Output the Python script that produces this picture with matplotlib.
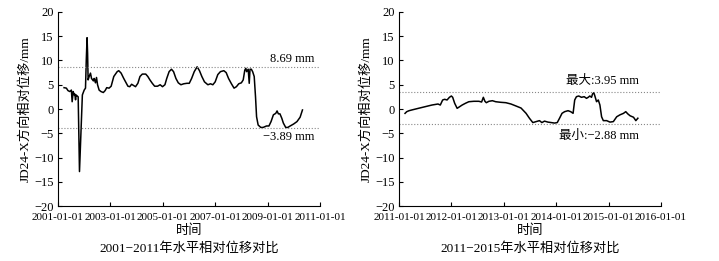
import numpy as np
import pandas as pd
import matplotlib
matplotlib.use("Agg")
import matplotlib.pyplot as plt
import matplotlib.dates as mdates

plt.rcParams['font.family'] = ['Liberation Serif', 'Noto Sans CJK SC']
plt.rcParams['axes.unicode_minus'] = True

# ---- data ----
# 2001-2011, time in decimal years
t1 = [2001.23, 2001.32, 2001.38, 2001.45, 2001.51, 2001.54, 2001.58, 2001.62, 2001.64,
      2001.67, 2001.69, 2001.73, 2001.77, 2001.82, 2001.93, 2002.00, 2002.05, 2002.08,
      2002.11, 2002.13, 2002.15, 2002.19, 2002.24, 2002.28, 2002.35, 2002.38, 2002.43,
      2002.47, 2002.51, 2002.57, 2002.64, 2002.73, 2002.80, 2002.86, 2002.95, 2003.03,
      2003.13, 2003.26, 2003.32, 2003.41, 2003.51, 2003.58, 2003.67, 2003.74, 2003.81,
      2003.87, 2003.96, 2004.05, 2004.13, 2004.22, 2004.35, 2004.43, 2004.51, 2004.60,
      2004.69, 2004.80, 2004.90, 2004.99, 2005.08, 2005.15, 2005.24, 2005.33, 2005.41,
      2005.50, 2005.59, 2005.69, 2005.80, 2005.92, 2006.01, 2006.10, 2006.20, 2006.31,
      2006.40, 2006.49, 2006.59, 2006.72, 2006.82, 2006.91, 2007.00, 2007.10, 2007.20,
      2007.33, 2007.42, 2007.51, 2007.62, 2007.72, 2007.81, 2007.90, 2008.00, 2008.07,
      2008.13, 2008.17, 2008.20, 2008.26, 2008.30, 2008.33, 2008.38, 2008.43, 2008.49,
      2008.54, 2008.58, 2008.64, 2008.74, 2008.83, 2008.96, 2009.05, 2009.13, 2009.22,
      2009.31, 2009.36, 2009.41, 2009.47, 2009.54, 2009.60, 2009.69, 2009.77, 2009.86,
      2009.99, 2010.12, 2010.24, 2010.33]
v1 = [4.4, 4.3, 3.8, 3.6, 3.9, 1.5, 3.6, 2.9, 3.1,
      1.9, 2.9, 2.7, 2.5, -12.9, 2.9, 3.9, 4.3, 10.1,
      14.7, 11.5, 6.0, 6.7, 7.4, 6.3, 5.8, 6.3, 5.4,
      6.5, 5.0, 3.9, 3.6, 3.4, 3.8, 4.4, 4.3, 4.7,
      6.7, 7.7, 7.9, 7.4, 6.3, 5.6, 4.7, 4.6, 5.1,
      4.9, 4.6, 5.3, 6.7, 7.2, 7.2, 6.7, 6.0, 5.3,
      4.7, 4.7, 5.0, 4.6, 5.0, 6.3, 7.7, 8.2, 7.7,
      6.3, 5.4, 5.0, 5.2, 5.3, 5.3, 6.3, 7.7, 8.7,
      7.9, 6.7, 5.6, 5.0, 5.2, 5.0, 5.6, 7.1, 7.7,
      7.9, 7.5, 6.3, 5.2, 4.3, 4.6, 5.2, 5.4, 6.0,
      8.0, 8.4, 7.7, 8.2, 5.3, 8.2, 8.2, 7.7, 6.7,
      2.5, -1.6, -3.3, -3.8, -3.8, -3.5, -3.5, -2.6, -1.2,
      -0.9, -0.4, -1.0, -1.0, -1.9, -2.9, -3.8, -3.8, -3.5,
      -3.1, -2.6, -1.7, -0.2]

# 2011-2015
t2 = [2011.115, 2011.148, 2011.192, 2011.244, 2011.371, 2011.500, 2011.629, 2011.744,
      2011.788, 2011.833, 2011.871, 2011.917, 2011.962, 2012.000, 2012.025, 2012.063,
      2012.110, 2012.140, 2012.206, 2012.269, 2012.333, 2012.429, 2012.525, 2012.577,
      2012.610, 2012.640, 2012.667, 2012.717, 2012.783, 2012.846, 2012.942, 2013.038,
      2013.135, 2013.231, 2013.327, 2013.423, 2013.487, 2013.552, 2013.615, 2013.679,
      2013.725, 2013.775, 2013.840, 2013.904, 2013.967, 2014.019, 2014.063, 2014.110,
      2014.160, 2014.225, 2014.275, 2014.321, 2014.352, 2014.385, 2014.429, 2014.481,
      2014.533, 2014.577, 2014.610, 2014.640, 2014.673, 2014.692, 2014.717, 2014.737,
      2014.769, 2014.802, 2014.833, 2014.865, 2014.898, 2014.962, 2015.025, 2015.090,
      2015.154, 2015.217, 2015.283, 2015.327, 2015.365, 2015.410, 2015.475, 2015.519,
      2015.558]
v2 = [-0.9, -0.55, -0.35, -0.2, 0.14, 0.48, 0.82, 1.03,
      0.82, 1.86, 2.0, 1.86, 2.41, 2.68, 2.41, 1.18,
      0.14, 0.35, 0.82, 1.18, 1.5, 1.59, 1.59, 1.44,
      2.41, 1.59, 1.3, 1.59, 1.71, 1.5, 1.38, 1.3,
      1.03, 0.62, 0.2, -0.89, -1.9, -2.8, -2.6, -2.4,
      -2.8, -2.5, -2.7, -2.8, -2.9, -2.8, -1.9, -0.89,
      -0.55, -0.35, -0.55, -0.89, 1.86, 2.54, 2.68, 2.41,
      2.54, 2.2, 2.41, 2.68, 2.41, 3.1, 3.36, 2.68,
      1.5, 1.86, 0.82, -1.6, -2.4, -2.4, -2.7, -2.6,
      -1.6, -1.2, -0.9, -0.55, -1.0, -1.4, -1.7, -2.4,
      -1.9]

ticks1 = ['2001-01-01', '2003-01-01', '2005-01-01', '2007-01-01', '2009-01-01', '2011-01-01']
ticks2 = ['2011-01-01', '2012-01-01', '2013-01-01', '2014-01-01', '2015-01-01', '2016-01-01']

ref1 = [8.69, -3.89]
ref1_labels = ['8.69 mm', '\u22123.89 mm']
ref2 = [3.45, -3.15]          # where the dotted lines sit in the picture
ref2_labels = ['最大:3.95 mm', '最小:\u22122.88 mm']

titles = ['2001\u22122011年水平相对位移对比', '2011\u22122015年水平相对位移对比']


def to_dates(years):
    years = np.asarray(years)
    base = np.floor(years).astype(int)
    start = pd.to_datetime([f"{y}-01-01" for y in base])
    return start + pd.to_timedelta((years - base) * 365.25, unit='D')


def style_axis(ax, ticks):
    tk = pd.to_datetime(ticks)
    ax.set_xlim(tk[0], tk[-1])
    ax.set_xticks(tk)
    ax.xaxis.set_major_formatter(mdates.DateFormatter('%Y-%m-%d'))
    ax.set_ylim(-20, 20)
    ax.set_yticks(np.arange(-20, 21, 5))
    ax.spines['top'].set_visible(False)
    ax.spines['right'].set_visible(False)
    ax.tick_params(direction='in', length=3, width=0.8)
    ax.tick_params(axis='x', labelsize=8, pad=5)
    ax.tick_params(axis='y', labelsize=9, pad=3)
    ax.set_ylabel('JD24-X方向相对位移/mm', fontsize=9.5, labelpad=2)
    ax.set_xlabel('时间', fontsize=9.5, labelpad=2)


fig = plt.figure(figsize=(7.19, 2.61), dpi=100)
ax1 = fig.add_axes([58 / 719, 55 / 261, 262 / 719, 194 / 261])
ax2 = fig.add_axes([399 / 719, 55 / 261, 262 / 719, 194 / 261])

for ax, t, v, ticks, refs, labels, title, tx, offs in [
        (ax1, t1, v1, ticks1, ref1, ref1_labels, titles[0], 2010.8, [1.6, -1.9]),
        (ax2, t2, v2, ticks2, ref2, ref2_labels, titles[1], 2015.58, [2.3, -2.4])]:
    ax.plot(to_dates(t), v, color='black', linewidth=1.1)
    for r, lab, o in zip(refs, labels, offs):
        ax.axhline(r, color='#888888', linestyle=':', linewidth=0.8)
        ax.text(to_dates([tx])[0], r + o, lab, ha='right', va='center', fontsize=9)
    style_axis(ax, ticks)
    ax.text(0.5, -0.218, title, transform=ax.transAxes, ha='center', va='center', fontsize=9.5)

fig.savefig('out.png', dpi=100)
